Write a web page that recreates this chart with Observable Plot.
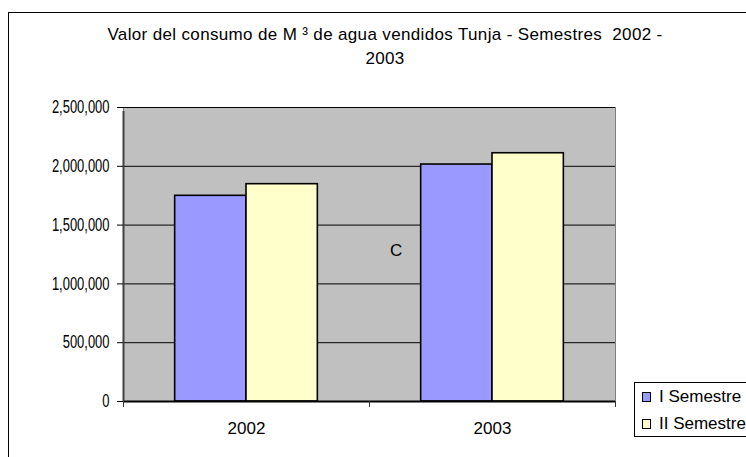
<!DOCTYPE html>
<html>
<head>
<meta charset="utf-8">
<script src="https://cdn.jsdelivr.net/npm/d3@7"></script>
<script src="https://cdn.jsdelivr.net/npm/@observablehq/plot@0.6"></script>
<style>
  html, body { margin: 0; padding: 0; background: #fff; }
  #wrap { position: relative; width: 746px; height: 457px; overflow: hidden; font-family: "Liberation Sans", Arial, sans-serif; color: #000; }
  #border { position: absolute; left: 8px; top: 12px; width: 770px; height: 470px; border: 1px solid #000; box-sizing: border-box; }
  #title { position: absolute; left: 0; width: 770px; top: 23px; text-align: center; font-size: 17px; line-height: 24px; letter-spacing: 0.35px; }
  #chart { position: absolute; left: 0; top: 0; }
  #legend { position: absolute; left: 634px; top: 382px; width: 130px; height: 55px; border: 1px solid #000; box-sizing: border-box; background: #fff; }
  .lg { position: absolute; font-size: 17px; line-height: 17px; white-space: nowrap; }
  .sw { position: absolute; width: 7px; height: 8px; border: 1.5px solid #000; }
  #stray { position: absolute; left: 390px; top: 242px; font-size: 17px; line-height: 17px; }
</style>
</head>
<body>
<div id="wrap">
  <div id="border"></div>
  <div id="title"></div>
  <div id="chart"></div>
  <div id="legend"></div>
  <div id="stray">C</div>
</div>
<script>
const titleLines = ["Valor del consumo de M ³ de agua vendidos Tunja - Semestres\u00a0 2002 -", "2003"];
const years = ["2002", "2003"];
const series = ["I Semestre", "II Semestre"];
const semestreI = [1749000, 2015000];
const semestreII = [1848000, 2111000];
const yTicks = [0, 500000, 1000000, 1500000, 2000000, 2500000];
const colors = ["#9999FF", "#FFFFCC"];

const data = years.map((y, i) => ({year: y, I: semestreI[i], II: semestreII[i]}));

const W = 746, H = 457, mL = 123, mR = 131, mT = 107, mB = 56;
const step = (W - mL - mR) / years.length;
const barW = step * 0.29;
const outer = (step - 2 * barW) / 2;
const fmt = d3.format(",");

document.getElementById("title").innerHTML = titleLines.map(t => `<div>${t}</div>`).join("");

const chart = Plot.plot({
  width: W, height: H,
  marginLeft: mL, marginRight: mR, marginTop: mT, marginBottom: mB,
  style: {fontFamily: "'Liberation Sans', Arial, sans-serif", fontSize: "16px", background: "transparent", color: "#000", overflow: "visible"},
  x: {domain: years, padding: 0, axis: null},
  y: {domain: [0, 2500000], axis: null},
  marks: [
    Plot.frame({fill: "#C0C0C0", stroke: "#808080", strokeWidth: 1}),
    Plot.gridY(yTicks, {stroke: "#000", strokeOpacity: 1, strokeWidth: 1}),
    Plot.barY(data, {x: "year", y: "I", fill: colors[0], stroke: "#000", strokeWidth: 1.6, insetLeft: outer, insetRight: step - outer - barW}),
    Plot.barY(data, {x: "year", y: "II", fill: colors[1], stroke: "#000", strokeWidth: 1.6, insetLeft: outer + barW, insetRight: outer}),
    Plot.ruleY([0], {stroke: "#000", strokeWidth: 2}),
    Plot.ruleX(years, {x: d => d, dx: -step / 2, y1: 0, y2: 0, insetBottom: -6, stroke: "#333", strokeWidth: 1}),
    Plot.ruleX(years.slice(-1), {x: d => d, dx: step / 2, y1: 0, y2: 0, insetBottom: -6, stroke: "#333", strokeWidth: 1}),
    Plot.ruleX(years.slice(0, 1), {x: d => d, dx: -step / 2, y1: 0, y2: 2500000, insetBottom: -4, stroke: "#404040", strokeWidth: 2}),
    Plot.axisY(yTicks, {tickFormat: fmt, tickSize: 6, tickPadding: 8, fontSize: 18, stroke: "#000"}),
    Plot.axisX({tickSize: 0, tickPadding: 20, fontSize: 17, label: null})
  ]
});
document.getElementById("chart").appendChild(chart);

// condense y tick labels horizontally (as in the reference), anchored at their right edge
const yLabels = new Set(yTicks.map(fmt));
chart.querySelectorAll("text").forEach(el => {
  if (!yLabels.has(el.textContent.trim())) return;
  const b = el.getBBox();
  const ax = b.x + b.width;
  const tr = el.getAttribute("transform") || "";
  el.setAttribute("transform", `${tr} translate(${ax},0) scale(0.72,1) translate(${-ax},0)`);
});

const legend = document.getElementById("legend");
series.forEach((s, i) => {
  const sw = document.createElement("div");
  sw.className = "sw";
  sw.style.left = "7px";
  sw.style.top = (9 + i * 27) + "px";
  sw.style.background = colors[i];
  legend.appendChild(sw);
  const t = document.createElement("div");
  t.className = "lg";
  t.style.left = "24px";
  t.style.top = (5 + i * 27) + "px";
  t.textContent = s;
  legend.appendChild(t);
});
</script>
</body>
</html>
